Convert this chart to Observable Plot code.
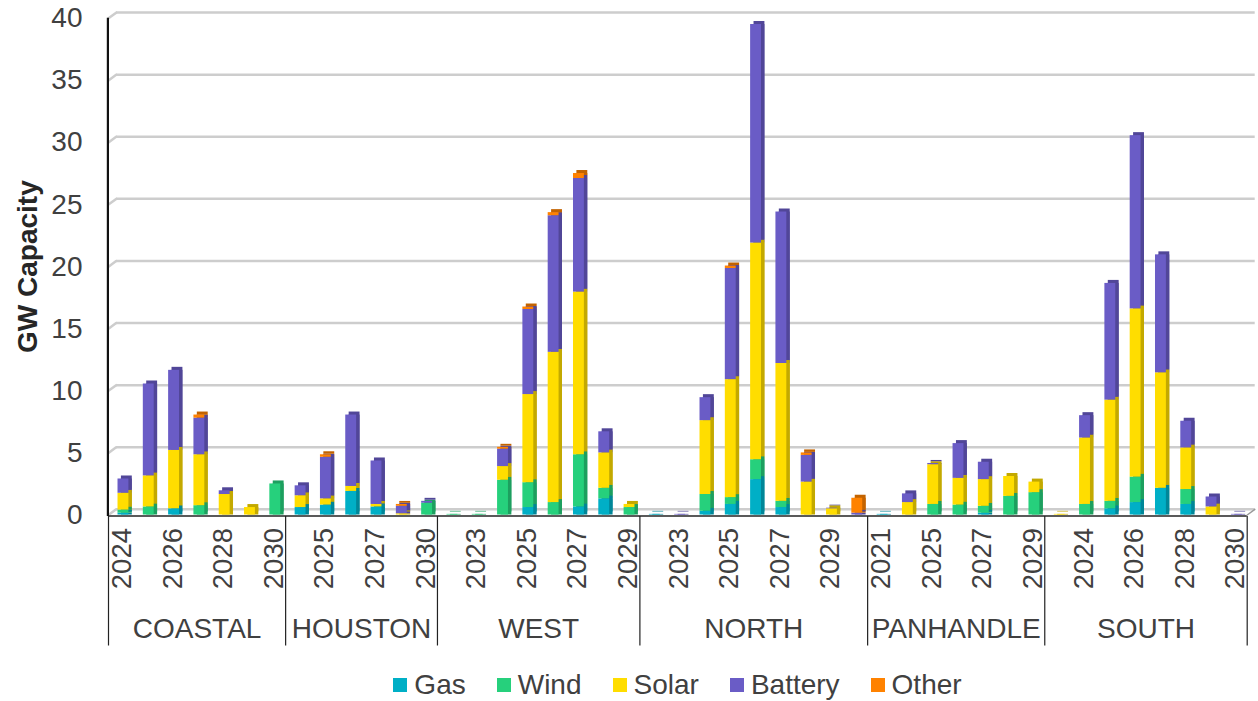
<!DOCTYPE html>
<html>
<head>
<meta charset="utf-8">
<script src="https://cdn.jsdelivr.net/npm/d3@7"></script>
<script src="https://cdn.jsdelivr.net/npm/@observablehq/plot@0.6"></script>
<style>
  body { margin: 0; background: #fff; font-family: "Liberation Sans", Arial, sans-serif; color: #404040; }
  #legend { display: flex; justify-content: center; align-items: center; gap: 31px;
            height: 48px; margin-top: 9px; padding-left: 108px; padding-right: 11px; font-size: 28px; }
  .item { display: flex; align-items: center; gap: 7px; }
  .sw { width: 14px; height: 14px; display: inline-block; }
</style>
</head>
<body>
<div id="chart"></div>
<div id="legend"></div>
<script>
// Regions and the commissioning years shown under each one
const regions = ["COASTAL", "HOUSTON", "WEST", "NORTH", "PANHANDLE", "SOUTH"];
const regionYears = [
  [2024, 2025, 2026, 2027, 2028, 2029, 2030],
  [2024, 2025, 2026, 2027, 2028, 2030],
  [2022, 2023, 2024, 2025, 2026, 2027, 2028, 2029],
  [2022, 2023, 2024, 2025, 2026, 2027, 2028, 2029, 2030],
  [2021, 2024, 2025, 2026, 2027, 2028, 2029],
  [2023, 2024, 2025, 2026, 2027, 2028, 2029, 2030]
];

// GW capacity by technology, one value per region-year in the order above
const gas = [
  0.15, 0, 0.5, 0, 0, 0, 0,
  0.6, 0.8, 1.9, 0.65, 0, 0,
  0, 0, 0, 0.6, 0, 0.65, 1.3, 0,
  0.05, 0, 0.3, 0.85, 2.85, 0.6, 0, 0, 0,
  0.05, 0, 0, 0, 0.15, 0, 0,
  0, 0, 0.5, 1.0, 2.15, 0.85, 0, 0
];
const wind = [
  0.25, 0.65, 0, 0.75, 0, 0, 2.5,
  0, 0, 0, 0, 0, 0.95,
  0.05, 0.05, 2.8, 2.0, 1.0, 4.2, 0.85, 0.6,
  0, 0, 1.35, 0.55, 1.6, 0.5, 0, 0, 0,
  0, 0, 0.85, 0.8, 0.55, 1.5, 1.8,
  0, 0.85, 0.6, 2.05, 0, 1.2, 0, 0
];
const solar = [
  1.35, 2.5, 4.7, 4.1, 1.65, 0.6, 0,
  0.95, 0.5, 0.4, 0.2, 0.1, 0,
  0, 0, 1.1, 7.1, 12.1, 13.1, 2.85, 0.25,
  0, 0, 5.95, 9.5, 17.45, 11.1, 2.65, 0.5, 0,
  0, 1.0, 3.2, 2.15, 2.15, 1.6, 0.85,
  0.05, 5.35, 8.15, 13.55, 9.3, 3.35, 0.65, 0
];
const battery = [
  1.15, 7.4, 6.45, 2.95, 0.3, 0, 0,
  0.8, 3.35, 5.75, 3.5, 0.6, 0.15,
  0, 0, 1.4, 6.85, 11.0, 9.15, 1.7, 0,
  0, 0.05, 1.85, 8.95, 17.6, 12.2, 2.15, 0.05, 0.15,
  0, 0.7, 0.1, 2.8, 1.4, 0, 0,
  0, 1.8, 9.4, 13.95, 9.5, 2.15, 0.8, 0.05
];
const other = [
  0, 0, 0, 0.25, 0, 0, 0,
  0, 0.2, 0, 0, 0.15, 0,
  0, 0, 0.15, 0.2, 0.25, 0.4, 0, 0,
  0, 0, 0, 0.2, 0, 0, 0.2, 0, 1.2,
  0, 0, 0, 0, 0, 0, 0,
  0, 0, 0, 0, 0, 0, 0, 0
];

const types = ["Gas", "Wind", "Solar", "Battery", "Other"];
const series = [gas, wind, solar, battery, other];
const colors = ["#00afc6", "#26d07c", "#ffdd00", "#6a5cc6", "#ff8200"];
const yTicks = [0, 5, 10, 15, 20, 25, 30, 35, 40];

// One slot per region-year along the category axis
const slots = [];
regions.forEach((region, r) => regionYears[r].forEach(year => slots.push({slot: slots.length, region, year})));
const nSlots = slots.length;

// Stacked segments (bottom to top: Gas, Wind, Solar, Battery, Other)
const segs = [];
slots.forEach(s => {
  let base = 0;
  series.forEach((vals, k) => {
    const v = vals[s.slot];
    if (v > 0) {
      segs.push({slot: s.slot, type: types[k], y1: base, y2: base + v,
                 front: colors[k], shade: d3.color(colors[k]).darker(0.75).formatHex()});
      base += v;
    }
  });
});

// Every other year label is printed
const yearLabels = slots.filter(s => s.slot % 2 === 0);

// Region groups: centre and boundaries
const regionRows = [];
const bounds = [-0.5];
let start = 0;
regions.forEach((name, r) => {
  const end = start + regionYears[r].length - 1;
  regionRows.push({name, mid: (start + end) / 2});
  bounds.push(end + 0.5);
  start = end + 1;
});

const BW = 0.43;      // front-face width as a share of the slot
const OFF = 2.3;      // column offset within the slot
const DEPTH_X = 3.4;  // oblique depth of the columns
const DEPTH_Y = 3;
const grid = "#cdcdcd";

const chart = Plot.plot({
  width: 1258,
  height: 652,
  marginLeft: 108,
  marginRight: 11.3,
  marginTop: 17.8,
  marginBottom: 137.5,
  x: {type: "linear", domain: [-0.5, nSlots - 0.5], axis: null},
  y: {domain: [0, 40], axis: null},
  color: {type: "identity"},
  style: {fontFamily: "Liberation Sans, Arial, sans-serif", fontSize: "28px", color: "#404040", background: "white", overflow: "visible"},
  marks: [
    // back-wall gridlines with their slanted left ends
    Plot.ruleY(yTicks, {y: d => d, dy: -5.7, insetLeft: 8, insetRight: -8, stroke: grid, strokeWidth: 2.5}),
    Plot.vector(yTicks, {x: () => -0.5, y: d => d, length: 9.5, rotate: 53.5, anchor: "start",
                         shape: "spike", r: 0, stroke: grid, fill: grid, strokeWidth: 2.5}),
    // floor edges
    Plot.vector([0], {x: () => nSlots - 0.5, y: d => d, length: 9.5, rotate: 53.5, anchor: "start",
                      shape: "spike", r: 0, stroke: "#9a9a9a", fill: "#9a9a9a", strokeWidth: 1.5}),
    Plot.ruleY([0], {stroke: "#5a5a5a", strokeWidth: 2, dy: 1}),
    // column sides and tops
    Plot.rect(segs, {x1: d => d.slot - BW / 2, x2: d => d.slot + BW / 2, y1: "y1", y2: "y2",
                     fill: "shade", dx: OFF + DEPTH_X}),
    Plot.rect(segs, {x1: d => d.slot - BW / 2, x2: d => d.slot + BW / 2, y1: "y1", y2: "y2",
                     fill: "shade", dx: OFF + DEPTH_X, dy: -DEPTH_Y}),
    // column fronts
    Plot.rect(segs, {x1: d => d.slot - BW / 2, x2: d => d.slot + BW / 2, y1: "y1", y2: "y2",
                     fill: "front", dx: OFF}),
    // value axis
    Plot.ruleX([-0.5], {x: d => d, stroke: "#111", strokeWidth: 2.2, dx: -0.6, insetBottom: -1.5}),
    Plot.text(yTicks, {frameAnchor: "left", y: d => d, text: d => String(d), textAnchor: "end",
                       dx: -26, fontSize: 28, fill: "#404040"}),
    Plot.text(["GW Capacity"], {frameAnchor: "left", textAnchor: "middle", dx: -80, rotate: -90,
                                fontWeight: "bold", fontSize: 28, fill: "#262626"}),
    // category axis: years, regions and group dividers
    Plot.ruleX(bounds, {x: d => d, y1: () => 0, y2: () => 0, insetTop: 1.5, insetBottom: -131,
                        stroke: "#222", strokeWidth: 1.2}),
    Plot.text(yearLabels, {x: "slot", y: () => 0, text: d => String(d.year), rotate: -90,
                           textAnchor: "end", lineAnchor: "middle", dy: 13, dx: 1, fontSize: 27.5, fill: "#404040"}),
    Plot.text(regionRows, {x: "mid", y: () => 0, text: "name", lineAnchor: "middle",
                           dy: 114, fontSize: 28, fill: "#404040"})
  ]
});
document.getElementById("chart").appendChild(chart);

// Legend below the chart
const legend = document.getElementById("legend");
types.forEach((t, k) => {
  const item = document.createElement("span");
  item.className = "item";
  item.innerHTML = `<span class="sw" style="background:${colors[k]}"></span><span>${t}</span>`;
  legend.appendChild(item);
});
</script>
</body>
</html>
